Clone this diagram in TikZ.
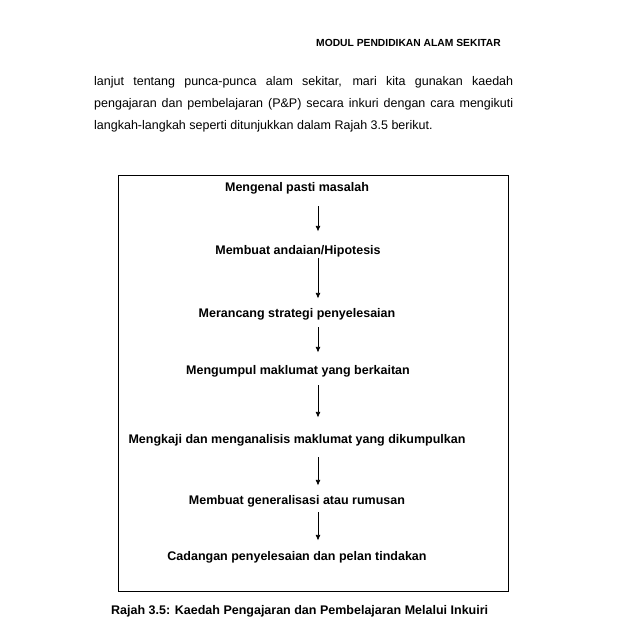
\documentclass[tikz,border=0pt]{standalone}
\usepackage{fontspec}
\setmainfont{Liberation Sans}
\usetikzlibrary{arrows.meta,calc}
\begin{document}
\begin{tikzpicture}[x=1pt,y=-1pt,
  stepnode/.style={font=\fontsize{12.5}{15}\selectfont\bfseries, anchor=mid, inner sep=0pt},
  para/.style={font=\fontsize{12.5}{15}\selectfont, anchor=mid west, inner sep=0pt},
  arr/.style={-{Latex[length=5.5pt,width=5pt]}, line width=0.7pt}]
\useasboundingbox (0,0) rectangle (638,630);
\fill[white] (0,0) rectangle (638,630);
\node[font=\fontsize{10.3}{12}\selectfont\bfseries, anchor=mid east, inner sep=0pt] (hdr) at (501,44) {MODUL PENDIDIKAN ALAM SEKITAR};
\node[para] (p1) at (94,83) {\makebox[419pt][s]{lanjut tentang punca-punca alam sekitar, mari kita gunakan kaedah}};
\node[para] (p2) at (94,105) {\makebox[419pt][s]{pengajaran dan pembelajaran (P\&P) secara inkuri dengan cara mengikuti}};
\node[para] (p3) at (94,127) {langkah-langkah seperti ditunjukkan dalam Rajah 3.5 berikut.};
\draw[line width=0.8pt] (118,175) rectangle (508,591);
\coordinate (col) at (318,0);
\node[stepnode] (t1) at (297,189) {Mengenal pasti masalah};
\node[stepnode] (t2) at (298,252) {Membuat andaian/Hipotesis};
\node[stepnode] (t3) at (297,315) {Merancang strategi penyelesaian};
\node[stepnode] (t4) at (298,372) {Mengumpul maklumat yang berkaitan};
\node[stepnode] (t5) at (297,441) {Mengkaji dan menganalisis maklumat yang dikumpulkan};
\node[stepnode] (t6) at (297,502) {Membuat generalisasi atau rumusan};
\node[stepnode] (t7) at (297,558) {Cadangan penyelesaian dan pelan tindakan};
\draw[arr] ($(t1.center -| col)+(0,18)$) -- ($(t2.center -| col)+(0,-20)$);
\draw[arr] ($(t2.center -| col)+(0,7)$) -- ($(t3.center -| col)+(0,-16)$);
\draw[arr] ($(t3.center -| col)+(0,13)$) -- ($(t4.center -| col)+(0,-19)$);
\draw[arr] ($(t4.center -| col)+(0,14)$) -- ($(t5.center -| col)+(0,-23)$);
\draw[arr] ($(t5.center -| col)+(0,17)$) -- ($(t6.center -| col)+(0,-16)$);
\draw[arr] ($(t6.center -| col)+(0,11)$) -- ($(t7.center -| col)+(0,-17)$);
\node[font=\fontsize{12.5}{15}\selectfont\bfseries, anchor=mid west, inner sep=0pt] (cap) at (111,612) {Rajah 3.5: Kaedah Pengajaran dan Pembelajaran Melalui Inkuiri};
\end{tikzpicture}
\end{document}
